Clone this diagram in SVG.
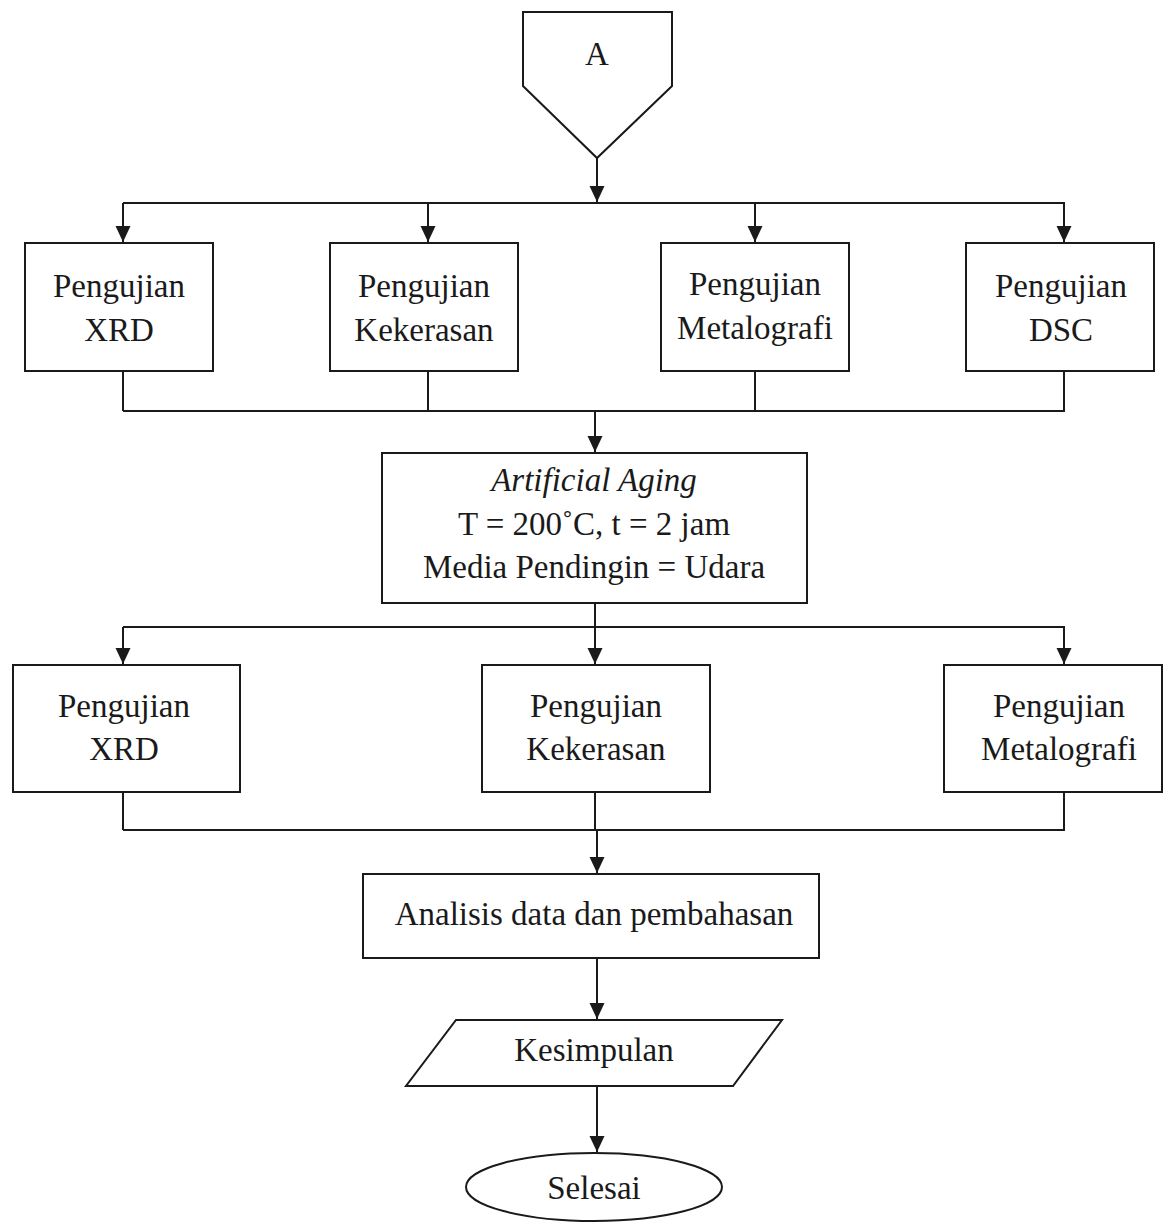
<svg xmlns="http://www.w3.org/2000/svg" width="1164" height="1222" viewBox="0 0 1164 1222">
<style>
.shape{fill:#fff;stroke:#1a1a1a;stroke-width:2}
.conn{fill:none;stroke:#1a1a1a;stroke-width:2}
text{font-family:"Liberation Serif","Times New Roman",serif;font-size:33px;fill:#1a1a1a;text-anchor:middle}
.it{font-style:italic}
</style>
<defs>
<marker id="arr" markerUnits="userSpaceOnUse" markerWidth="18" markerHeight="18" refX="16" refY="7.5" orient="auto">
<path d="M0,0 L16,7.5 L0,15 Z" fill="#1a1a1a"/>
</marker>
</defs>
<rect width="1164" height="1222" fill="#fff"/>
<g id="connectors">
<line class="conn" x1="597" y1="158" x2="597" y2="202" marker-end="url(#arr)"/>
<polyline class="conn" points="123,203 1065,203"/>
<line class="conn" x1="123" y1="203" x2="123" y2="242" marker-end="url(#arr)"/>
<line class="conn" x1="428" y1="203" x2="428" y2="242" marker-end="url(#arr)"/>
<line class="conn" x1="755" y1="203" x2="755" y2="242" marker-end="url(#arr)"/>
<line class="conn" x1="1064" y1="203" x2="1064" y2="242" marker-end="url(#arr)"/>
<line class="conn" x1="123" y1="371" x2="123" y2="411"/>
<line class="conn" x1="428" y1="371" x2="428" y2="411"/>
<line class="conn" x1="755" y1="371" x2="755" y2="411"/>
<line class="conn" x1="1064" y1="371" x2="1064" y2="411"/>
<polyline class="conn" points="123,411 1065,411"/>
<line class="conn" x1="595" y1="411" x2="595" y2="452" marker-end="url(#arr)"/>
<line class="conn" x1="595" y1="603" x2="595" y2="627"/>
<polyline class="conn" points="123,627 1065,627"/>
<line class="conn" x1="123" y1="627" x2="123" y2="664" marker-end="url(#arr)"/>
<line class="conn" x1="595" y1="627" x2="595" y2="664" marker-end="url(#arr)"/>
<line class="conn" x1="1064" y1="627" x2="1064" y2="664" marker-end="url(#arr)"/>
<line class="conn" x1="123" y1="792" x2="123" y2="830"/>
<line class="conn" x1="595" y1="792" x2="595" y2="830"/>
<line class="conn" x1="1064" y1="792" x2="1064" y2="830"/>
<polyline class="conn" points="123,830 1065,830"/>
<line class="conn" x1="597" y1="830" x2="597" y2="873" marker-end="url(#arr)"/>
<line class="conn" x1="597" y1="958" x2="597" y2="1019" marker-end="url(#arr)"/>
<line class="conn" x1="597" y1="1086" x2="597" y2="1152" marker-end="url(#arr)"/>
</g>
<g id="start-A">
<polygon class="shape" points="523,12 672,12 672,86 597,158 523,86"/>
<text x="597" y="65">A</text>
</g>
<g id="xrd1">
<rect class="shape" x="25" y="243" width="188" height="128"/>
<text x="119" y="297">Pengujian</text>
<text x="119" y="341">XRD</text>
</g>
<g id="kekerasan1">
<rect class="shape" x="330" y="243" width="188" height="128"/>
<text x="424" y="297">Pengujian</text>
<text x="424" y="341">Kekerasan</text>
</g>
<g id="metalografi1">
<rect class="shape" x="661" y="243" width="188" height="128"/>
<text x="755" y="295">Pengujian</text>
<text x="755" y="339">Metalografi</text>
</g>
<g id="dsc1">
<rect class="shape" x="966" y="243" width="188" height="128"/>
<text x="1061" y="297">Pengujian</text>
<text x="1061" y="341">DSC</text>
</g>
<g id="aging">
<rect class="shape" x="382" y="453" width="425" height="150"/>
<text x="594" y="491" class="it">Artificial Aging</text>
<text x="594" y="535">T = 200˚C, t = 2 jam</text>
<text x="594" y="578">Media Pendingin = Udara</text>
</g>
<g id="xrd2">
<rect class="shape" x="13" y="665" width="227" height="127"/>
<text x="124" y="717">Pengujian</text>
<text x="124" y="760">XRD</text>
</g>
<g id="kekerasan2">
<rect class="shape" x="482" y="665" width="228" height="127"/>
<text x="596" y="717">Pengujian</text>
<text x="596" y="760">Kekerasan</text>
</g>
<g id="metalografi2">
<rect class="shape" x="944" y="665" width="218" height="127"/>
<text x="1059" y="717">Pengujian</text>
<text x="1059" y="760">Metalografi</text>
</g>
<g id="analisis">
<rect class="shape" x="363" y="874" width="456" height="84"/>
<text x="594" y="925">Analisis data dan pembahasan</text>
</g>
<g id="kesimpulan">
<polygon class="shape" points="456,1020 782,1020 733,1086 406,1086"/>
<text x="594" y="1061">Kesimpulan</text>
</g>
<g id="selesai">
<ellipse class="shape" cx="594" cy="1187" rx="128" ry="34"/>
<text x="594" y="1199">Selesai</text>
</g>
</svg>
